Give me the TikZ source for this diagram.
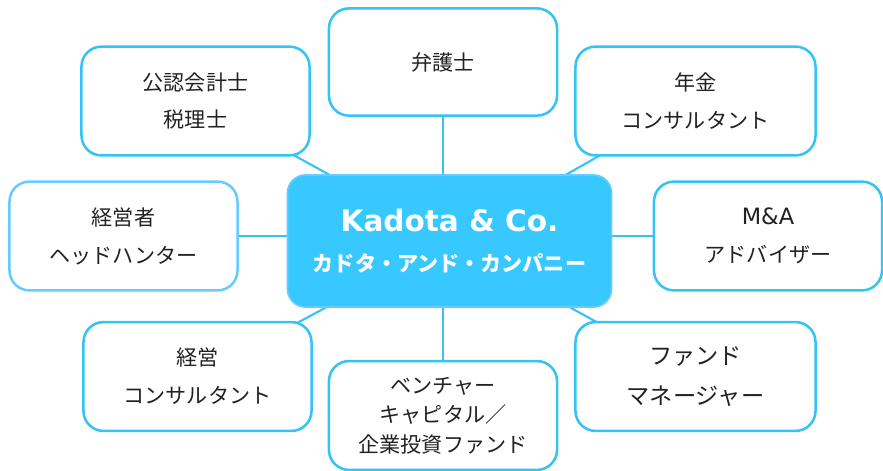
\documentclass[tikz,border=0pt]{standalone}
\usepackage{fontspec}
\setmainfont{Noto Sans CJK JP}
\newfontfamily\latinfont{DejaVu Sans}
\usepackage{xcolor}
\usepackage{tikz}
\usetikzlibrary{backgrounds, positioning}

\definecolor{hubblue}{RGB}{54,200,255}
\definecolor{edgeblue}{RGB}{51,196,245}
\definecolor{softblue}{RGB}{102,204,255}
\definecolor{inkgray}{RGB}{34,34,34}

\begin{document}
\begin{tikzpicture}[
            x=0.025cm,
            y=-0.025cm,
            every node/.style={
                    align=center,
                    text centered,
                    text=inkgray
                },
            hub node/.style={
                    fill=hubblue,
                    draw=softblue,
                    line width=1.2pt,
                    rounded corners=0.45cm,
                    minimum width=8.1cm,
                    minimum height=3.3cm,
                    text=white,
                    font=\bfseries\fontsize{15}{28}\selectfont
                },
            role node/.style={
                    draw=edgeblue,
                    fill=white,
                    line width=1.8pt,
                    rounded corners=0.5cm,
                    minimum width=5.7cm,
                    minimum height=2.72cm,
                    font=\fontsize{15}{27}\selectfont
                },
            wide role/.style={
                    role node,
                    minimum width=6.0cm
                },
            connecting line/.style={
                    draw=edgeblue,
                    line width=1.5pt
                }
        ]

        \useasboundingbox (0,0) rectangle (883,470);

        % Hub
        \node[hub node] (hub) at (449.5, 241) {{\latinfont\fontsize{21}{28}\selectfont Kadota \& Co.}\\カドタ・アンド・カンパニー};

        % Upper row
        \node[role node] (acct) at (195.5, 101) {公認会計士\\税理士};
        \node[role node, minimum height=2.68cm] (lawyer) at (443, 62) {弁護士};
        \node[wide role] (pension) at (695.5, 101) {年金\\コンサルタント};

        % Middle row
        \node[role node, draw=softblue] (headhunter) at (123.5, 236) {経営者\\ヘッドハンター};
        \node[role node] (mna) at (768, 236) {{\latinfont\fontsize{16}{27}\selectfont M\&A}\\アドバイザー};

        % Lower row
        \node[role node] (mgmt) at (197.5, 376.5) {経営\\コンサルタント};
        \node[role node, font=\fontsize{15}{21}\selectfont] (venture) at (443, 415.5) {ベンチャー\\キャピタル／\\企業投資ファンド};
        \node[wide role, font=\fontsize{16.5}{28.5}\selectfont] (fund) at (695.5, 376.5) {ファンド\\マネージャー};

        % Connections
        \begin{scope}[on background layer]
            \foreach \n in {acct, pension, mgmt, fund} {
                    \draw[connecting line] (\n.center) -- (hub.center);
                }
            \foreach \n in {lawyer, venture} {
                    \draw[connecting line] (\n.center) -- (\n.center |- hub.center);
                }
            \foreach \n in {headhunter, mna} {
                    \draw[connecting line] (\n.center) -- (\n.center -| hub.center);
                }
        \end{scope}

    \end{tikzpicture}
\end{document}
